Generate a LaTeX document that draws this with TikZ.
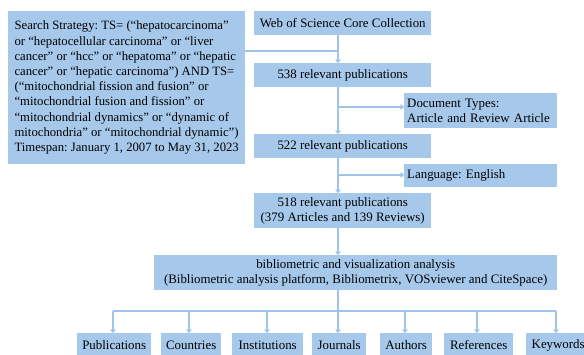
\documentclass[tikz,border=0pt]{standalone}
\usepackage{fontspec}
\setmainfont{Liberation Serif}
\usetikzlibrary{arrows.meta}
\definecolor{boxblue}{RGB}{166,200,235}
\definecolor{lineblue}{RGB}{160,196,232}
\frenchspacing
\tikzset{
  box/.style={fill=boxblue, inner sep=0pt, text=black, font=\fontsize{12.9}{14.8}\selectfont, anchor=north west},
  conn/.style={draw=lineblue, line width=2.6pt},
  arr/.style={conn, -{Triangle[width=6pt,length=3.5pt]}}
}
\newcommand{\bx}[6]{% name, x1, y1, x2, y2, text
  \node[box, minimum width=#4pt-#2pt, minimum height=#5pt-#3pt, align=center] (#1) at (#2,#3) {#6};}
\begin{document}
\begin{tikzpicture}[x=1pt,y=-1pt]
\useasboundingbox[fill=white] (0,0) rectangle (584,354);
% search strategy box
\node[box, minimum width=237pt, minimum height=153pt, align=left, font=\fontsize{12.7}{15.2}\selectfont] (search) at (8,11)
 {Search Strategy: TS= (“hepatocarcinoma”\\
 or “hepatocellular carcinoma” or “liver\\
 cancer” or “hcc” or “hepatoma” or “hepatic\\
 cancer” or “hepatic carcinoma”) AND TS=\\
 (“mitochondrial fission and fusion” or\\
 “mitochondrial fusion and fission” or\\
 “mitochondrial dynamics” or “dynamic of\\
 mitochondria” or “mitochondrial dynamic”)\\
 Timespan: January 1, 2007 to May 31, 2023};
\bx{wos}{254}{11}{431}{35}{Web of Science Core Collection}
\bx{p538}{254}{63}{431}{87}{538 relevant publications}
\node[box, minimum width=153pt, minimum height=35pt, text width=147pt, inner xsep=3pt, align=left] (doc) at (404,93) {Document Types:\\Article and Review Article};
\bx{p522}{254}{134}{431}{158}{522 relevant publications}
\node[box, minimum width=153pt, minimum height=23pt, text width=147pt, inner xsep=3pt, align=left] (lang) at (404,164) {Language: English};
\bx{p518}{254}{193}{431}{228}{518 relevant publications\\(379 Articles and 139 Reviews)}
\bx{bib}{154}{255}{557}{290}{bibliometric and visualization analysis\\(Bibliometric analysis platform, Bibliometrix, VOSviewer and CiteSpace)}
\bx{pub}{77}{333}{151}{357}{Publications}
\bx{cou}{161}{333}{221}{357}{Countries}
\bx{ins}{232}{333}{303}{357}{Institutions}
\bx{jou}{312}{333}{366}{357}{Journals}
\bx{aut}{380}{333}{432}{357}{Authors}
\bx{ref}{444}{333}{513}{357}{References}
\bx{key}{526}{333}{590}{357}{Keywords}
% junctions
\coordinate (j1) at (338,51);
\coordinate (j2) at (338,107);
\coordinate (j3) at (338,175);
\coordinate (b0) at (338,290);
\coordinate (bus) at (338,311);
% connectors
\draw[conn] (search.east |- j1) -- (j1);
\draw[arr] (j1 |- wos.south) -- (j1 |- p538.north);
\draw[arr] (j1 |- p538.south) -- (j1 |- p522.north);
\draw[arr] (j2) -- (doc.west |- j2);
\draw[arr] (j1 |- p522.south) -- (j1 |- p518.north);
\draw[arr] (j3) -- (lang.west |- j3);
\draw[arr] (j1 |- p518.south) -- (j1 |- bib.north);
\draw[conn] (b0) -- (bus);
\draw[conn] (113,311) -- (556,311);
\foreach \n/\x in {pub/113, cou/189, ins/267, jou/338, aut/405, ref/477, key/556}{
  \draw[arr] (\x,311) -- (\x,333);
}
\end{tikzpicture}
\end{document}
